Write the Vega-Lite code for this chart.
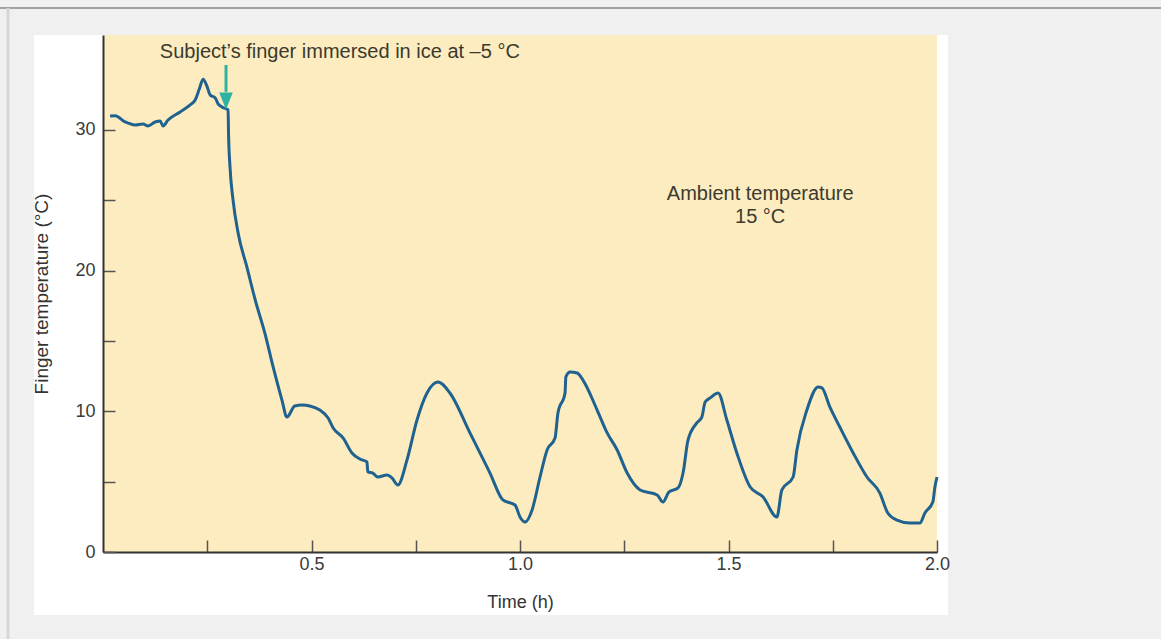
{
  "$schema": "https://vega.github.io/schema/vega-lite/v6.json",
  "width": 834,
  "height": 517,
  "autosize": {"type": "none"},
  "padding": {"left": 103, "top": 35, "right": 224, "bottom": 87},
  "background": "#f0f0f0",
  "config": {
    "view": {"stroke": null},
    "font": "Liberation Sans"
  },
  "data": {"values": [{}]},
  "datasets": {
    "curve": [
      {"t": 0.017, "temp": 30.99}, {"t": 0.029, "temp": 31.0}, {"t": 0.053, "temp": 30.56},
      {"t": 0.077, "temp": 30.35}, {"t": 0.096, "temp": 30.42}, {"t": 0.108, "temp": 30.28},
      {"t": 0.125, "temp": 30.56}, {"t": 0.137, "temp": 30.63}, {"t": 0.144, "temp": 30.28},
      {"t": 0.156, "temp": 30.70}, {"t": 0.185, "temp": 31.27}, {"t": 0.209, "temp": 31.77},
      {"t": 0.221, "temp": 32.12}, {"t": 0.231, "temp": 32.9}, {"t": 0.240, "temp": 33.6},
      {"t": 0.249, "temp": 33.12}, {"t": 0.257, "temp": 32.48}, {"t": 0.269, "temp": 32.27},
      {"t": 0.276, "temp": 31.85}, {"t": 0.285, "temp": 31.63}, {"t": 0.300, "temp": 31.42},
      {"t": 0.301, "temp": 29.78}, {"t": 0.3046, "temp": 27.36}, {"t": 0.3118, "temp": 25.02},
      {"t": 0.324, "temp": 22.67}, {"t": 0.345, "temp": 20.26}, {"t": 0.365, "temp": 17.91},
      {"t": 0.388, "temp": 15.57}, {"t": 0.408, "temp": 13.15}, {"t": 0.429, "temp": 10.81},
      {"t": 0.441, "temp": 9.59}, {"t": 0.460, "temp": 10.38}, {"t": 0.477, "temp": 10.45},
      {"t": 0.496, "temp": 10.38}, {"t": 0.520, "temp": 10.09}, {"t": 0.540, "temp": 9.52},
      {"t": 0.552, "temp": 8.81}, {"t": 0.576, "temp": 8.10}, {"t": 0.597, "temp": 7.04},
      {"t": 0.616, "temp": 6.61}, {"t": 0.633, "temp": 6.40}, {"t": 0.635, "temp": 5.69},
      {"t": 0.647, "temp": 5.61}, {"t": 0.659, "temp": 5.33}, {"t": 0.681, "temp": 5.47},
      {"t": 0.693, "temp": 5.26}, {"t": 0.707, "temp": 4.76}, {"t": 0.729, "temp": 6.54},
      {"t": 0.753, "temp": 9.38}, {"t": 0.777, "temp": 11.30}, {"t": 0.803, "temp": 12.08},
      {"t": 0.832, "temp": 11.30}, {"t": 0.880, "temp": 8.46}, {"t": 0.928, "temp": 5.61},
      {"t": 0.959, "temp": 3.70}, {"t": 0.988, "temp": 3.34}, {"t": 1.000, "temp": 2.49},
      {"t": 1.012, "temp": 2.13}, {"t": 1.029, "temp": 2.99}, {"t": 1.048, "temp": 5.33},
      {"t": 1.065, "temp": 7.25}, {"t": 1.084, "temp": 8.10}, {"t": 1.091, "temp": 9.88},
      {"t": 1.108, "temp": 11.30}, {"t": 1.110, "temp": 12.44}, {"t": 1.120, "temp": 12.79},
      {"t": 1.137, "temp": 12.72}, {"t": 1.151, "temp": 12.22}, {"t": 1.185, "temp": 10.09},
      {"t": 1.209, "temp": 8.46}, {"t": 1.233, "temp": 7.25}, {"t": 1.257, "temp": 5.61},
      {"t": 1.288, "temp": 4.41}, {"t": 1.329, "temp": 4.05}, {"t": 1.343, "temp": 3.55},
      {"t": 1.357, "temp": 4.26}, {"t": 1.379, "temp": 4.55}, {"t": 1.391, "temp": 5.61},
      {"t": 1.403, "temp": 7.96}, {"t": 1.424, "temp": 9.17}, {"t": 1.436, "temp": 9.59},
      {"t": 1.444, "temp": 10.66}, {"t": 1.456, "temp": 10.95}, {"t": 1.475, "temp": 11.30},
      {"t": 1.496, "temp": 9.38}, {"t": 1.520, "temp": 7.04}, {"t": 1.552, "temp": 4.62},
      {"t": 1.583, "temp": 3.91}, {"t": 1.616, "temp": 2.49}, {"t": 1.628, "temp": 4.41},
      {"t": 1.655, "temp": 5.33}, {"t": 1.664, "temp": 7.25}, {"t": 1.688, "temp": 10.09},
      {"t": 1.715, "temp": 11.73}, {"t": 1.724, "temp": 11.66}, {"t": 1.743, "temp": 10.31},
      {"t": 1.767, "temp": 8.88}, {"t": 1.799, "temp": 7.04}, {"t": 1.832, "temp": 5.33},
      {"t": 1.863, "temp": 4.19}, {"t": 1.882, "temp": 2.77}, {"t": 1.904, "temp": 2.27},
      {"t": 1.935, "temp": 2.06}, {"t": 1.959, "temp": 2.06}, {"t": 1.971, "temp": 2.77},
      {"t": 1.990, "temp": 3.55}, {"t": 1.995, "temp": 4.62}, {"t": 2.000, "temp": 5.33}
    ]
  },
  "layer": [
    {
      "mark": {"type": "rect", "color": "#ffffff"},
      "encoding": {
        "x": {"datum": -0.1655, "type": "quantitative", "scale": {"domain": [0, 2], "nice": false, "zero": false}},
        "x2": {"datum": 2.0264},
        "y": {"datum": -4.48, "type": "quantitative", "scale": {"domain": [0, 36.74], "nice": false, "zero": false}},
        "y2": {"datum": 36.74}
      }
    },
    {
      "mark": {"type": "rect", "color": "#fdecbf"},
      "encoding": {
        "x": {"datum": 0, "type": "quantitative"},
        "x2": {"datum": 2},
        "y": {"datum": 0, "type": "quantitative"},
        "y2": {"datum": 36.74}
      }
    },
    {
      "mark": {"type": "rule", "color": "#a0a0a0", "strokeWidth": 2},
      "encoding": {
        "x": {"datum": -0.247, "type": "quantitative"},
        "x2": {"datum": 2.537},
        "y": {"datum": 38.66, "type": "quantitative"}
      }
    },
    {
      "mark": {"type": "rule", "color": "#d6d6d6", "strokeWidth": 3},
      "encoding": {
        "x": {"datum": -0.2278, "type": "quantitative"},
        "y": {"datum": 38.66, "type": "quantitative"},
        "y2": {"datum": -6.18}
      }
    },
    {
      "data": {"name": "curve"},
      "mark": {"type": "line", "color": "#1f6290", "strokeWidth": 3, "interpolate": "monotone"},
      "encoding": {
        "x": {
          "field": "t", "type": "quantitative",
          "axis": {
            "title": "Time (h)",
            "values": [0.25, 0.5, 0.75, 1, 1.25, 1.5, 1.75, 2],
            "labelExpr": "datum.value % 0.5 == 0 ? format(datum.value, '.1f') : ''",
            "tickSize": -12, "tickWidth": 1.5, "tickColor": "#555555",
            "labelPadding": 15, "labelFontSize": 18, "labelColor": "#3a3a3a",
            "labelFlush": false, "labelOverlap": false,
            "domainColor": "#333333", "domainWidth": 2,
            "titleFontSize": 18, "titleFontWeight": "normal", "titleColor": "#333333", "titlePadding": 20,
            "grid": false, "zindex": 1
          }
        },
        "y": {
          "field": "temp", "type": "quantitative",
          "axis": {
            "title": "Finger temperature (°C)",
            "values": [0, 5, 10, 15, 20, 25, 30],
            "labelExpr": "datum.value % 10 == 0 ? '' + datum.value : ''",
            "tickSize": -12, "tickWidth": 1.5, "tickColor": "#555555",
            "labelPadding": 20, "labelFontSize": 18, "labelColor": "#3a3a3a",
            "labelFlush": false, "labelOverlap": false,
            "domainColor": "#333333", "domainWidth": 2,
            "titleFontSize": 19, "titleFontWeight": "normal", "titleColor": "#333333", "titlePadding": 23,
            "grid": false, "zindex": 1
          }
        }
      }
    },
    {
      "mark": {"type": "rule", "color": "#2db3a0", "strokeWidth": 3},
      "encoding": {
        "x": {"datum": 0.295, "type": "quantitative"},
        "y": {"datum": 34.61, "type": "quantitative"},
        "y2": {"datum": 32.7}
      }
    },
    {
      "mark": {"type": "point", "filled": true, "color": "#2db3a0", "opacity": 1, "strokeWidth": 0, "size": 289, "shape": "M-0.8,-1L0.8,-1L0,1Z"},
      "encoding": {
        "x": {"datum": 0.295, "type": "quantitative"},
        "y": {"datum": 32.05, "type": "quantitative"}
      }
    },
    {
      "mark": {"type": "text", "text": "Subject’s finger immersed in ice at –5 °C", "fontSize": 20, "color": "#3a3a30", "align": "center", "baseline": "middle"},
      "encoding": {
        "x": {"datum": 0.568, "type": "quantitative"},
        "y": {"datum": 35.54, "type": "quantitative"}
      }
    },
    {
      "mark": {"type": "text", "text": "Ambient temperature", "fontSize": 20, "color": "#3a3a30", "align": "center", "baseline": "middle"},
      "encoding": {
        "x": {"datum": 1.576, "type": "quantitative"},
        "y": {"datum": 25.44, "type": "quantitative"}
      }
    },
    {
      "mark": {"type": "text", "text": "15 °C", "fontSize": 20, "color": "#3a3a30", "align": "center", "baseline": "middle"},
      "encoding": {
        "x": {"datum": 1.576, "type": "quantitative"},
        "y": {"datum": 23.81, "type": "quantitative"}
      }
    }
  ]
}
